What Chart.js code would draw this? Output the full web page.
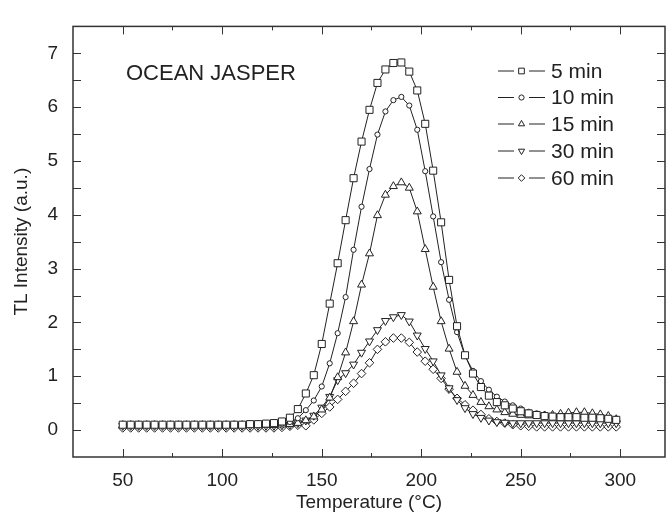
<!DOCTYPE html>
<html>
<head>
<meta charset="utf-8">
<script src="https://cdn.jsdelivr.net/npm/chart.js@4/dist/chart.umd.min.js"></script>
<style>
  body { margin: 0; background: #fff; }
  #wrap { width: 672px; height: 521px; }
</style>
</head>
<body>
<div id="wrap"><canvas id="tl-chart" width="672" height="521"></canvas></div>
<script>
// Temperature (°C) of each reading
const temperatures = [
  50, 54, 58, 62, 66, 70, 74, 78, 82, 86, 90, 94, 98, 102, 106, 110, 114, 118, 122,
  126, 130, 134, 138, 142, 146, 150, 154, 158, 162, 166, 170, 174, 178, 182, 186, 190,
  194, 198, 202, 206, 210, 214, 218, 222, 226, 230, 234, 238, 242, 246, 250,
  254, 258, 262, 266, 270, 274, 278, 282, 286, 290, 294, 298
];

// TL intensity (a.u.) per annealing time
const min5 = [
  0.10, 0.10, 0.10, 0.10, 0.10, 0.10, 0.10, 0.10, 0.10, 0.10, 0.10, 0.10, 0.10, 0.10, 0.10, 0.10, 0.11, 0.11, 0.12,
  0.13, 0.16, 0.23, 0.39, 0.68, 1.02, 1.60, 2.35, 3.10, 3.90, 4.68, 5.36, 5.95, 6.45, 6.70, 6.82, 6.83,
  6.66, 6.31, 5.69, 4.82, 3.86, 2.79, 1.93, 1.39, 1.05, 0.80, 0.64, 0.52, 0.46, 0.40, 0.35,
  0.31, 0.28, 0.26, 0.25, 0.24, 0.24, 0.24, 0.23, 0.23, 0.22, 0.21, 0.19
];
const min10 = [
  0.10, 0.10, 0.10, 0.10, 0.10, 0.10, 0.10, 0.10, 0.10, 0.10, 0.10, 0.10, 0.10, 0.10, 0.10, 0.10, 0.10, 0.10, 0.10,
  0.10, 0.12, 0.15, 0.22, 0.37, 0.55, 0.81, 1.24, 1.80, 2.47, 3.35, 4.15, 4.85, 5.49, 5.92, 6.13, 6.19,
  6.03, 5.58, 4.81, 3.97, 3.12, 2.42, 1.82, 1.38, 1.10, 0.91, 0.75, 0.62, 0.53, 0.46, 0.40,
  0.34, 0.31, 0.29, 0.27, 0.26, 0.25, 0.25, 0.24, 0.24, 0.23, 0.22, 0.21
];
const min15 = [
  0.09, 0.09, 0.09, 0.09, 0.09, 0.09, 0.09, 0.09, 0.09, 0.09, 0.09, 0.09, 0.09, 0.09, 0.09, 0.09, 0.09, 0.09, 0.09,
  0.09, 0.10, 0.11, 0.13, 0.18, 0.25, 0.38, 0.60, 0.98, 1.44, 2.02, 2.70, 3.28, 3.99, 4.37, 4.53, 4.60,
  4.50, 4.06, 3.36, 2.66, 2.02, 1.51, 1.08, 0.82, 0.65, 0.52, 0.44, 0.38, 0.33, 0.30, 0.28,
  0.27, 0.27, 0.27, 0.28, 0.30, 0.32, 0.33, 0.33, 0.31, 0.29, 0.26, 0.20
];
const min30 = [
  0.08, 0.08, 0.08, 0.08, 0.08, 0.08, 0.08, 0.08, 0.08, 0.08, 0.08, 0.08, 0.08, 0.08, 0.08, 0.08, 0.08, 0.08, 0.08,
  0.08, 0.09, 0.10, 0.13, 0.18, 0.27, 0.42, 0.62, 0.93, 1.06, 1.22, 1.44, 1.65, 1.86, 2.03, 2.10, 2.14,
  2.02, 1.76, 1.51, 1.28, 1.02, 0.78, 0.56, 0.41, 0.30, 0.23, 0.18, 0.15, 0.14, 0.13, 0.13,
  0.13, 0.13, 0.13, 0.13, 0.13, 0.13, 0.13, 0.13, 0.13, 0.13, 0.13, 0.13
];
const min60 = [
  0.04, 0.04, 0.04, 0.04, 0.04, 0.04, 0.04, 0.04, 0.04, 0.04, 0.04, 0.04, 0.04, 0.04, 0.04, 0.04, 0.04, 0.04, 0.04,
  0.04, 0.05, 0.07, 0.09, 0.08, 0.19, 0.31, 0.43, 0.57, 0.72, 0.87, 1.05, 1.25, 1.50, 1.64, 1.71, 1.71,
  1.63, 1.45, 1.28, 1.13, 0.96, 0.76, 0.59, 0.47, 0.37, 0.29, 0.21, 0.16, 0.13, 0.10, 0.08,
  0.07, 0.06, 0.06, 0.06, 0.06, 0.06, 0.06, 0.06, 0.06, 0.06, 0.06, 0.06
];

const seriesNames = ['5 min', '10 min', '15 min', '30 min', '60 min'];
const xTickLabels = [50, 100, 150, 200, 250, 300];
const xMinorTicks = [75, 125, 175, 225, 275];
const yTickLabels = [0, 1, 2, 3, 4, 5, 6, 7];
const yMinorTicks = [0.5, 1.5, 2.5, 3.5, 4.5, 5.5, 6.5];

const FONT = "'Liberation Sans', Arial, sans-serif";
const INK = '#222';

// marker look for each series, same order as seriesNames
const markers = [
  { pointStyle: 'rect', radius: 5, rotation: 0 },
  { pointStyle: 'circle', radius: 2.6, rotation: 0 },
  { pointStyle: 'triangle', radius: 4.6, rotation: 0 },
  { pointStyle: 'triangle', radius: 4.6, rotation: 180 },
  { pointStyle: 'rectRot', radius: 4.3, rotation: 0 }
];

const seriesValues = [min5, min10, min15, min30, min60];

const datasets = seriesValues.map((vals, i) => ({
  label: seriesNames[i],
  data: temperatures.map((t, k) => ({ x: t, y: vals[k] })),
  borderColor: INK,
  borderWidth: 1,
  backgroundColor: '#fff',
  pointStyle: markers[i].pointStyle,
  pointRadius: markers[i].radius,
  pointRotation: markers[i].rotation,
  pointBackgroundColor: '#fff',
  pointBorderColor: INK,
  pointBorderWidth: 1,
  tension: 0,
  fill: false
}));

// box round the plot with inward ticks on all four sides
const framePlugin = {
  id: 'frame',
  afterDatasetsDraw(chart) {
    const { ctx, chartArea: a, scales: { x, y } } = chart;
    ctx.save();
    ctx.strokeStyle = '#333';
    ctx.lineWidth = 1;
    ctx.beginPath();
    const vTick = (v, len) => {
      const px = Math.round(x.getPixelForValue(v)) + 0.5;
      ctx.moveTo(px, a.bottom); ctx.lineTo(px, a.bottom - len);
      ctx.moveTo(px, a.top); ctx.lineTo(px, a.top + len);
    };
    const hTick = (v, len) => {
      const py = Math.round(y.getPixelForValue(v)) + 0.5;
      ctx.moveTo(a.left, py); ctx.lineTo(a.left + len, py);
      ctx.moveTo(a.right, py); ctx.lineTo(a.right - len, py);
    };
    xTickLabels.forEach(v => vTick(v, 8));
    xMinorTicks.forEach(v => vTick(v, 4));
    yTickLabels.forEach(v => hTick(v, 8));
    yMinorTicks.forEach(v => hTick(v, 8));
    ctx.stroke();
    ctx.lineWidth = 1.5;
    ctx.strokeRect(a.left, a.top, a.right - a.left, a.bottom - a.top);
    ctx.restore();
  }
};

// sample name and the line-marker-line legend
const notesPlugin = {
  id: 'notes',
  afterDraw(chart) {
    const ctx = chart.ctx;
    ctx.save();
    ctx.fillStyle = INK;
    ctx.textBaseline = 'middle';
    ctx.textAlign = 'left';
    ctx.font = `22px ${FONT}`;
    ctx.fillText('OCEAN JASPER', 126, 74);

    const rowY = [71, 97.5, 124, 151, 178];
    ctx.font = `21px ${FONT}`;
    seriesNames.forEach((name, i) => {
      const yy = rowY[i];
      ctx.strokeStyle = INK;
      ctx.lineWidth = 1;
      ctx.beginPath();
      ctx.moveTo(498, yy); ctx.lineTo(514, yy);
      ctx.moveTo(529, yy); ctx.lineTo(545, yy);
      ctx.stroke();
      ctx.fillStyle = '#fff';
      Chart.helpers.drawPoint(ctx, {
        pointStyle: markers[i].pointStyle,
        radius: markers[i].pointStyle === 'circle' ? 2.6 : markers[i].radius - 1,
        rotation: markers[i].rotation,
        borderWidth: 1
      }, 521.5, yy);
      ctx.fillStyle = INK;
      ctx.fillText(name, 551, yy + 1);
    });
    ctx.restore();
  }
};

new Chart(document.getElementById('tl-chart'), {
  type: 'line',
  data: { datasets },
  options: {
    responsive: false,
    animation: false,
    layout: { padding: { top: 6, right: 7, left: 0, bottom: 0 } },
    plugins: { legend: { display: false }, tooltip: { enabled: false } },
    scales: {
      x: {
        type: 'linear',
        min: 25,
        max: 322.5,
        grid: { display: false, drawTicks: false },
        border: { display: false },
        afterBuildTicks: s => { s.ticks = xTickLabels.map(v => ({ value: v })); },
        afterFit: s => { s.height = 64; },
        ticks: { color: INK, font: { family: FONT, size: 19 }, padding: 12, maxRotation: 0 },
        title: {
          display: true, text: 'Temperature (°C)', color: INK,
          font: { family: FONT, size: 19 }, padding: { top: 7, bottom: 7 }
        }
      },
      y: {
        type: 'linear',
        min: -0.5,
        max: 7.5,
        grid: { display: false, drawTicks: false },
        border: { display: false },
        afterBuildTicks: s => { s.ticks = yTickLabels.map(v => ({ value: v })); },
        afterFit: s => { s.width = 73; },
        ticks: { color: INK, font: { family: FONT, size: 19 }, padding: 15 },
        title: {
          display: true, text: 'TL Intensity (a.u.)', color: INK,
          font: { family: FONT, size: 19 }, padding: { top: 10, bottom: 10 }
        }
      }
    }
  },
  plugins: [framePlugin, notesPlugin]
});
</script>
</body>
</html>
